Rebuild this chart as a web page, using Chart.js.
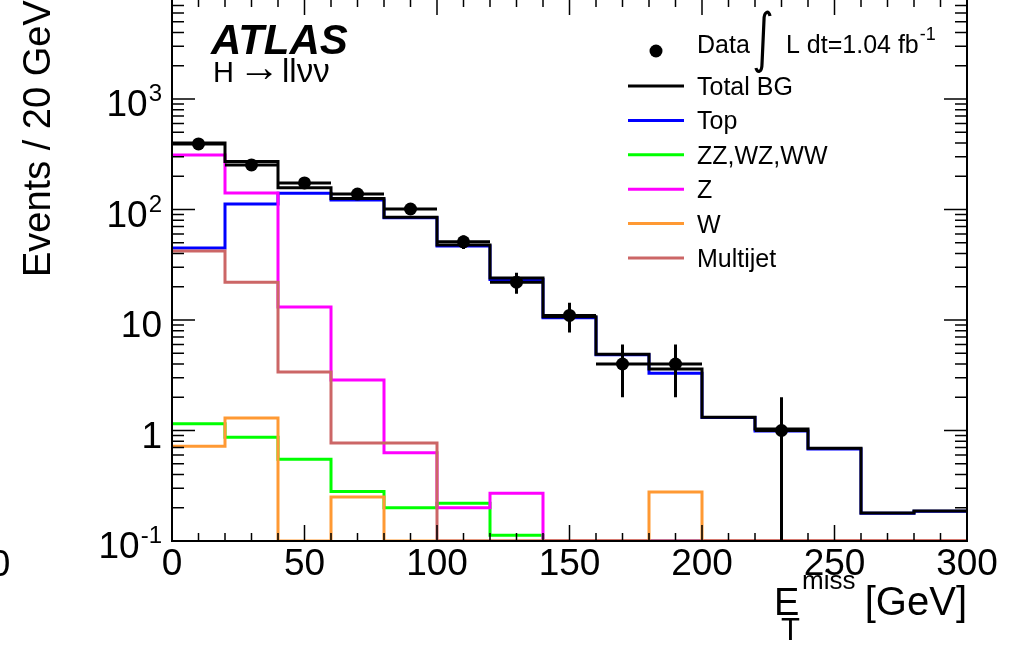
<!DOCTYPE html>
<html>
<head>
<meta charset="utf-8">
<script src="https://cdn.jsdelivr.net/npm/chart.js@4.4.0/dist/chart.umd.min.js"></script>
<style>
html, body { margin: 0; padding: 0; background: #fff; }
#wrap { width: 1017px; height: 652px; }
</style>
</head>
<body>
<div id="wrap"><canvas id="chart" width="1017" height="652"></canvas></div>
<script>
// bins of 20 GeV in missing ET
const binEdges = [0, 20, 40, 60, 80, 100, 120, 140, 160, 180, 200, 220, 240, 260, 280, 300];

// data counts and their errors
const dataCounts = [392, 253, 174, 138, 101, 51, 22, 11, 4, 4, 0, 1, 0, 0, 0];
const dataErrors = [19.8, 15.9, 13.2, 11.7, 10, 7.1, 4.7, 3.3, 2, 2, 0, 1, 0, 0, 0];

// backgrounds
const totalBG = [400, 272, 157, 126, 85, 47.7, 24, 10.7, 4.9, 3.6, 1.32, 1.03, 0.69, 0.179, 0.187];
const topBG = [44.9, 112, 140, 122, 84, 46.7, 23.3, 10.5, 4.85, 3.3, 1.31, 0.99, 0.68, 0.178, 0.186];
const dibosonBG = [1.15, 0.87, 0.55, 0.28, 0.2, 0.22, 0.113, 0, 0, 0, 0, 0, 0, 0, 0];
const zBG = [311, 141, 13.1, 2.86, 0.63, 0.2, 0.27, 0, 0, 0, 0, 0, 0, 0, 0];
const wBG = [0.72, 1.3, 0, 0.25, 0, 0, 0, 0, 0, 0.277, 0, 0, 0, 0, 0];
const multijetBG = [42.1, 22, 3.38, 0.77, 0.77, 0, 0, 0, 0, 0, 0, 0, 0, 0, 0];

// axes
const yTickValues = [0.1, 1, 10, 100, 1000];
const yTickLabels = [['10', '-1'], ['1', ''], ['10', ''], ['10', '2'], ['10', '3']];
const xTickValues = [0, 50, 100, 150, 200, 250, 300];
const xTickLabels = ['0', '50', '100', '150', '200', '250', '300'];

const Y_MIN = 0.1;
const Y_MAX = 7870;
const FONT = '"Liberation Sans", Arial, Helvetica, sans-serif';

function plotVal(v) {
    return v > 0 ? v : Y_MIN; // empty bins sit on the axis like in ROOT
}

function histPoints(vals) {
    return binEdges.map((x, i) => ({ x: x, y: plotVal(vals[Math.min(i, vals.length - 1)]) }));
}

function histDataset(label, vals, color, order) {
    return {
        label: label,
        data: histPoints(vals),
        borderColor: color,
        backgroundColor: color,
        borderWidth: 3,
        pointRadius: 0,
        stepped: true,
        fill: false,
        borderJoinStyle: 'miter',
        order: order
    };
}

const dataPoints = dataCounts.map((n, i) => ({ x: (binEdges[i] + binEdges[i + 1]) / 2, y: n > 0 ? n : null }));

// error bars for the data points
const errorBarPlugin = {
    id: 'errorBars',
    afterDatasetsDraw(chart) {
        const ctx = chart.ctx;
        const xs = chart.scales.x, ys = chart.scales.y;
        ctx.save();
        ctx.strokeStyle = '#000';
        ctx.lineWidth = 3;
        dataCounts.forEach((n, i) => {
            if (n <= 0) return;
            const xc = xs.getPixelForValue((binEdges[i] + binEdges[i + 1]) / 2);
            const yc = ys.getPixelForValue(n);
            const lo = Math.max(n - dataErrors[i], Y_MIN);
            ctx.beginPath();
            ctx.moveTo(xs.getPixelForValue(binEdges[i]), yc);
            ctx.lineTo(xs.getPixelForValue(binEdges[i + 1]), yc);
            ctx.moveTo(xc, ys.getPixelForValue(n + dataErrors[i]));
            ctx.lineTo(xc, ys.getPixelForValue(lo));
            ctx.stroke();
        });
        ctx.restore();
    }
};

// ROOT style frame with inner ticks on all four sides
const framePlugin = {
    id: 'frame',
    afterDraw(chart) {
        const ctx = chart.ctx;
        const a = chart.chartArea;
        const xs = chart.scales.x, ys = chart.scales.y;
        ctx.save();
        ctx.strokeStyle = '#000';
        ctx.lineWidth = 2;
        ctx.beginPath();
        ctx.moveTo(a.left, a.top - 5);
        ctx.lineTo(a.left, a.bottom);
        ctx.lineTo(a.right, a.bottom);
        ctx.lineTo(a.right, a.top - 5);
        ctx.stroke();

        ctx.lineWidth = 1.5;
        ctx.beginPath();
        for (let d = -1; d <= 3; d++) {
            for (let k = 1; k <= 9; k++) {
                const v = k * Math.pow(10, d);
                if (v > Y_MAX) break;
                const y = ys.getPixelForValue(v);
                const len = k === 1 ? 23 : 12;
                ctx.moveTo(a.left, y); ctx.lineTo(a.left + len, y);
                ctx.moveTo(a.right, y); ctx.lineTo(a.right - len, y);
            }
        }
        for (let x = 0; x <= 300; x += 10) {
            const px = xs.getPixelForValue(x);
            const major = x % 50 === 0;
            ctx.moveTo(px, a.bottom); ctx.lineTo(px, a.bottom - (major ? 16 : 8));
            ctx.moveTo(px, a.top); ctx.lineTo(px, a.top + (major ? 15 : 7));
        }
        ctx.stroke();

        // tick labels
        ctx.fillStyle = '#000';
        ctx.textBaseline = 'alphabetic';
        ctx.textAlign = 'center';
        ctx.font = '37px ' + FONT;
        xTickValues.forEach((v, i) => {
            ctx.fillText(xTickLabels[i], xs.getPixelForValue(v), 575);
        });
        ctx.fillText('0', 0, 576);

        ctx.textAlign = 'left';
        yTickValues.forEach((v, i) => {
            const y = ys.getPixelForValue(v);
            const [base, sup] = yTickLabels[i];
            ctx.font = '24px ' + FONT;
            const supW = sup ? ctx.measureText(sup).width : 0;
            ctx.font = '37px ' + FONT;
            const baseW = ctx.measureText(base).width;
            const right = 162;
            const x0 = right - supW - baseW - (sup ? 1 : 0);
            ctx.fillText(base, x0, y + 17);
            if (sup) {
                ctx.font = '24px ' + FONT;
                ctx.fillText(sup, x0 + baseW + 1, y + 2);
            }
        });

        // axis titles
        ctx.save();
        ctx.translate(50, 277);
        ctx.rotate(-Math.PI / 2);
        ctx.font = '38px ' + FONT;
        ctx.fillText('Events / 20 GeV', 0, 0);
        ctx.restore();

        ctx.font = '38px ' + FONT;
        ctx.fillText('E', 774, 615);
        ctx.font = '31px ' + FONT;
        ctx.fillText('T', 781, 640);
        ctx.font = '26px ' + FONT;
        ctx.fillText('miss', 802, 589);
        ctx.font = '40px ' + FONT;
        ctx.textAlign = 'right';
        ctx.fillText('[GeV]', 967, 615);

        // ATLAS label
        ctx.textAlign = 'left';
        ctx.font = 'italic bold 42px ' + FONT;
        ctx.fillText('ATLAS', 211, 54);
        ctx.font = '29px ' + FONT;
        ctx.fillText('H', 213, 82);
        ctx.font = '42px ' + FONT;
        ctx.fillText('\u2192', 238, 81);
        ctx.font = '33px ' + FONT;
        ctx.fillText('ll\u03BD\u03BD', 282, 82);
        ctx.restore();
    }
};

// legend box in the upper right
const legendPlugin = {
    id: 'rootLegend',
    afterDraw(chart) {
        const ctx = chart.ctx;
        ctx.save();
        ctx.fillStyle = '#000';
        ctx.font = '25px ' + FONT;
        ctx.textAlign = 'left';

        // data entry
        ctx.beginPath();
        ctx.arc(656, 51, 6.5, 0, Math.PI * 2);
        ctx.fill();
        ctx.fillText('Data', 697, 53);
        ctx.strokeStyle = '#000';
        ctx.lineWidth = 3.2;
        ctx.beginPath();
        ctx.moveTo(770, 16);
        ctx.bezierCurveTo(769, 10, 764, 11, 764, 20);
        ctx.lineTo(762, 64);
        ctx.bezierCurveTo(762, 73, 757, 73, 756, 68);
        ctx.stroke();
        ctx.fillText('L dt=1.04 fb', 786, 53);
        const w = ctx.measureText('L dt=1.04 fb').width;
        ctx.font = '18px ' + FONT;
        ctx.fillText('-1', 786 + w + 1, 40);

        ctx.font = '25px ' + FONT;
        const rows = [1, 2, 3, 4, 5, 6];
        rows.forEach((di, r) => {
            const ds = chart.data.datasets[di];
            const y = 86 + r * 34.4;
            ctx.strokeStyle = ds.borderColor;
            ctx.lineWidth = 3;
            ctx.beginPath();
            ctx.moveTo(628, y);
            ctx.lineTo(684, y);
            ctx.stroke();
            ctx.fillText(ds.label, 697, y + 9);
        });
        ctx.restore();
    }
};

const chart = new Chart(document.getElementById('chart'), {
    type: 'line',
    data: {
        datasets: [
            {
                type: 'scatter',
                label: 'Data',
                data: dataPoints,
                pointRadius: 6.5,
                pointBackgroundColor: '#000',
                pointBorderWidth: 0,
                showLine: false,
                order: 0
            },
            histDataset('Total BG', totalBG, '#000000', 1),
            histDataset('Top', topBG, '#0000ff', 6),
            histDataset('ZZ,WZ,WW', dibosonBG, '#00ff00', 5),
            histDataset('Z', zBG, '#ff00ff', 4),
            histDataset('W', wBG, '#ff9933', 3),
            histDataset('Multijet', multijetBG, '#cc6666', 2)
        ]
    },
    options: {
        responsive: false,
        animation: false,
        layout: { autoPadding: false, padding: { left: 172, right: 50, top: 0, bottom: 111 } },
        scales: {
            x: { type: 'linear', min: 0, max: 300, bounds: 'data', display: false },
            y: { type: 'logarithmic', min: Y_MIN, max: Y_MAX, bounds: 'data', display: false }
        },
        plugins: {
            legend: { display: false },
            tooltip: { enabled: false }
        }
    },
    plugins: [errorBarPlugin, framePlugin, legendPlugin]
});
</script>
</body>
</html>
